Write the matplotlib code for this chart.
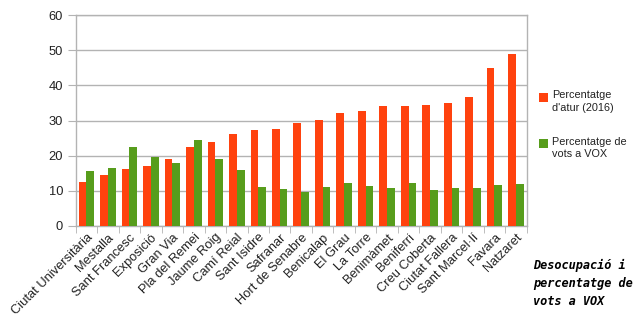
import matplotlib
matplotlib.use("Agg")
import matplotlib.pyplot as plt
from matplotlib.patches import Rectangle
import numpy as np

barris = ["Ciutat Universitària", "Mestalla", "Sant Francesc", "Exposició", "Gran Via",
          "Pla del Remei", "Jaume Roig", "Camí Reial", "Sant Isidre", "Safranar",
          "Hort de Senabre", "Benicalap", "El Grau", "La Torre", "Benimàmet",
          "Beniferri", "Creu Coberta", "Ciutat Fallera", "Sant Marcel·lí", "Favara", "Natzaret"]
atur_2016 = [12.4, 14.6, 16.1, 17.1, 19.0, 22.6, 24.0, 26.3, 27.3, 27.5,
             29.3, 30.1, 32.2, 32.8, 34.2, 34.1, 34.3, 34.9, 36.7, 44.8, 48.9]
vots_vox = [15.6, 16.5, 22.6, 19.7, 17.8, 24.4, 19.1, 16.0, 11.1, 10.6,
            9.6, 11.1, 12.2, 11.3, 10.7, 12.3, 10.3, 10.7, 10.8, 11.6, 12.0]
y_ticks = [0, 10, 20, 30, 40, 50, 60]
series_labels = ["Percentatge\nd'atur (2016)", "Percentatge de\nvots a VOX"]
title = "Desocupació i\npercentatge de\nvots a VOX"

plt.rcParams['font.family'] = ['Liberation Sans', 'DejaVu Sans']

RED = "#ff420e"
GREEN = "#579d1c"
GRID = "#b3b3b3"

W, H = 639, 323
fig = plt.figure(figsize=(W / 100, H / 100), dpi=100)
ax = fig.add_axes([75.7 / W, 1 - 226 / H, 451 / W, 211 / H])

x = np.arange(len(barris))
w = 0.36
ax.bar(x - w / 2, atur_2016, width=w, color=RED, zorder=3)
ax.bar(x + w / 2, vots_vox, width=w, color=GREEN, zorder=3)

ax.set_xlim(-0.5, len(barris) - 0.5)
ax.set_ylim(0, 60)
ax.set_yticks(y_ticks)
ax.yaxis.grid(True, color=GRID, linewidth=1, zorder=0)
ax.tick_params(axis='y', length=6, color=GRID, labelsize=9.3, labelcolor="#222222", pad=3)

ax.set_xticks(x)
ax.set_xticklabels(barris, rotation=45, ha='right', rotation_mode='anchor', fontsize=9.3,
                   color="#222222")
ax.tick_params(axis='x', length=0, pad=4)
ax.set_xticks(np.arange(-0.5, len(barris), 1), minor=True)
ax.tick_params(axis='x', which='minor', length=5, color=GRID)

for s in ax.spines.values():
    s.set_color(GRID)
    s.set_linewidth(1)

# legend: colour key squares with two-line labels, aligned to the first line
def px(xp, yp):
    return xp / W, 1 - yp / H

for colour, label, top in [(RED, series_labels[0], 93), (GREEN, series_labels[1], 139.3)]:
    x0, y0 = px(539.3, top + 8.7)
    fig.patches.append(Rectangle((x0, y0), 9 / W, 8.7 / H, transform=fig.transFigure,
                                 facecolor=colour, edgecolor='none'))
    tx, ty = px(551.7, top - 2.5)
    fig.text(tx, ty, label, fontsize=7.8, va='top', ha='left', linespacing=1.3,
             color="#222222")

tx, ty = px(533, 258.5)
fig.text(tx, ty, title, family="DejaVu Sans Mono", fontweight="bold", fontstyle="italic",
         fontsize=8.6, va="top", ha="left", linespacing=1.52)

fig.savefig("out.png", dpi=100)
